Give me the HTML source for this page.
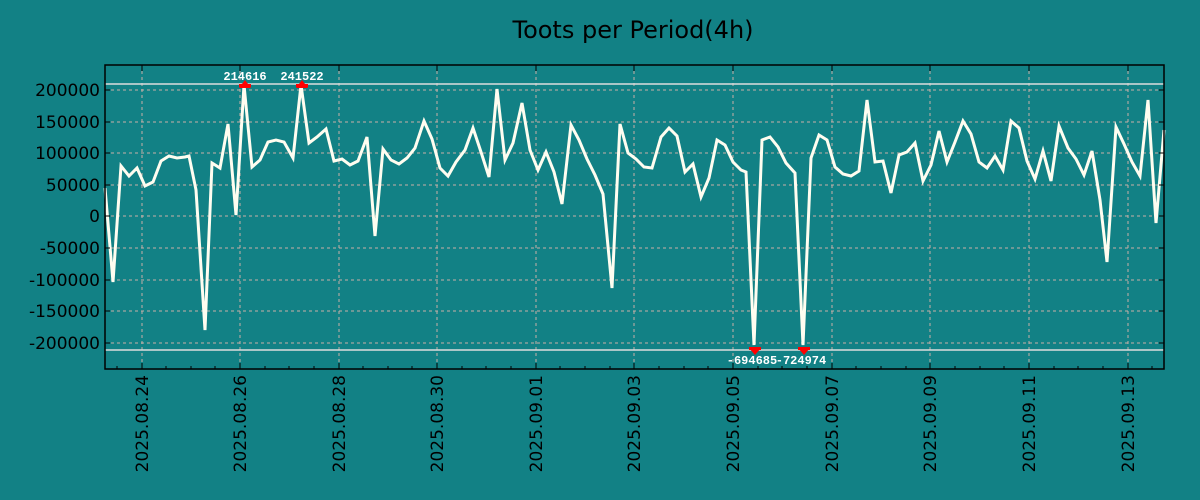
<!DOCTYPE html>
<html><head><meta charset="utf-8"><style>
html,body{margin:0;padding:0;background:#128185;}
svg{display:block;font-family:"DejaVu Sans","Liberation Sans",sans-serif;}
</style></head><body>
<svg width="1200" height="500" viewBox="0 0 1200 500" xmlns="http://www.w3.org/2000/svg">
<rect width="1200" height="500" fill="#128185"/>
<text x="633" y="38" font-size="24" text-anchor="middle" fill="#000">Toots per Period(4h)</text>
<g stroke="#c8b0a8" stroke-width="1" stroke-dasharray="3,3">
<line x1="105" x2="1164" y1="90" y2="90"/><line x1="105" x2="1164" y1="122" y2="122"/>
<line x1="105" x2="1164" y1="153" y2="153"/><line x1="105" x2="1164" y1="185" y2="185"/>
<line x1="105" x2="1164" y1="216" y2="216"/><line x1="105" x2="1164" y1="248" y2="248"/>
<line x1="105" x2="1164" y1="280" y2="280"/><line x1="105" x2="1164" y1="311" y2="311"/>
<line x1="105" x2="1164" y1="343" y2="343"/>
<line x1="142" x2="142" y1="65" y2="369"/><line x1="240" x2="240" y1="65" y2="369"/>
<line x1="339" x2="339" y1="65" y2="369"/><line x1="437" x2="437" y1="65" y2="369"/>
<line x1="536" x2="536" y1="65" y2="369"/><line x1="634" x2="634" y1="65" y2="369"/>
<line x1="733" x2="733" y1="65" y2="369"/><line x1="832" x2="832" y1="65" y2="369"/>
<line x1="930" x2="930" y1="65" y2="369"/><line x1="1029" x2="1029" y1="65" y2="369"/>
<line x1="1128" x2="1128" y1="65" y2="369"/>
</g>
<line x1="105" x2="1164" y1="84" y2="84" stroke="#ddd" stroke-width="1.5"/>
<line x1="105" x2="1164" y1="350" y2="350" stroke="#ddd" stroke-width="1.5"/>
<polyline fill="none" stroke="#fffdf0" stroke-width="3" stroke-linejoin="miter" points="105,188 113,282 121,166 129,176 137,168 145,186 153,182 161,161 169,156 177,158 185,157 189,156 196,190 205,330 212,163 220,168 228,124 236,215 244,85 252,167 260,160 268,142 276,140 284,142 293,158 301,85 309,143 317,137 326,129 334,161 342,159 350,165 358,161 367,137 375,236 383,149 391,160 399,164 407,158 415,148 424,121 432,139 440,168 448,176 456,162 465,150 473,128 481,152 489,177 497,89 505,160 513,143 522,103 530,150 538,170 546,152 554,172 562,204 571,125 579,140 587,159 595,175 603,194 612,288 620,124 628,153 636,159 644,167 652,168 661,137 669,128 677,136 685,172 693,164 701,197 709,178 717,140 725,145 733,162 741,170 746,172 754,345 762,140 770,137 778,147 786,163 795,173 803,345 811,158 819,135 827,140 835,167 843,174 851,176 859,171 867,100 875,162 883,161 891,193 899,155 907,152 915,143 923,181 931,165 939,131 947,162 955,142 963,121 971,134 979,162 987,168 995,156 1003,170 1011,121 1019,128 1027,161 1035,179 1043,151 1051,181 1059,126 1068,148 1076,159 1084,175 1092,151 1100,200 1107,262 1116,127 1124,144 1132,162 1140,176 1148,100 1156,223 1164,130"/>
<g fill="#f00">
<polygon points="239,88 245,80 251,88"/><rect x="239" y="84" width="12" height="3"/>
<polygon points="296,88 302,80 308,88"/><rect x="296" y="84" width="12" height="3"/>
<polygon points="749,348 755,355 761,348"/><rect x="749" y="347" width="12" height="3"/>
<polygon points="798,348 804,355 810,348"/><rect x="798" y="347" width="12" height="3"/>
</g>
<g font-family="'Liberation Mono','DejaVu Sans Mono',monospace" font-size="12" font-weight="bold" fill="#fff" text-anchor="middle">
<text x="245" y="80">214616</text><text x="302" y="80">241522</text>
<text x="752" y="364">-694685</text><text x="801" y="364">-724974</text>
</g>
<rect x="105" y="65" width="1059" height="304" fill="none" stroke="#000" stroke-width="1.5"/>
<g stroke="#000" stroke-width="1">
<path d="M105,90h5M105,122h5M105,153h5M105,185h5M105,216h5M105,248h5M105,280h5M105,311h5M105,343h5"/>
<path d="M1164,90h-5M1164,122h-5M1164,153h-5M1164,185h-5M1164,216h-5M1164,248h-5M1164,280h-5M1164,311h-5M1164,343h-5"/>
<path d="M142,369v-6M240,369v-6M339,369v-6M437,369v-6M536,369v-6M634,369v-6M733,369v-6M832,369v-6M930,369v-6M1029,369v-6M1128,369v-6"/>
<path d="M117,369v-3M166,369v-3M191,369v-3M215,369v-3M265,369v-3M289,369v-3M314,369v-3M363,369v-3M388,369v-3M412,369v-3M462,369v-3M486,369v-3M511,369v-3M560,369v-3M585,369v-3M610,369v-3M659,369v-3M684,369v-3M708,369v-3M758,369v-3M782,369v-3M807,369v-3M856,369v-3M881,369v-3M906,369v-3M955,369v-3M980,369v-3M1004,369v-3M1054,369v-3M1078,369v-3M1103,369v-3M1152,369v-3"/>
<path d="M142,65v6M240,65v6M339,65v6M437,65v6M536,65v6M634,65v6M733,65v6M832,65v6M930,65v6M1029,65v6M1128,65v6"/>
</g>
<g font-size="17" fill="#000" text-anchor="end">
<text x="100" y="96">200000</text><text x="100" y="128">150000</text>
<text x="100" y="159">100000</text><text x="100" y="191">50000</text>
<text x="100" y="222">0</text><text x="100" y="254">-50000</text>
<text x="100" y="286">-100000</text><text x="100" y="317">-150000</text>
<text x="100" y="349">-200000</text>
</g>
<g font-size="17" fill="#000" text-anchor="end">
<text transform="translate(148,375) rotate(-90)">2025.08.24</text>
<text transform="translate(246,375) rotate(-90)">2025.08.26</text>
<text transform="translate(345,375) rotate(-90)">2025.08.28</text>
<text transform="translate(443,375) rotate(-90)">2025.08.30</text>
<text transform="translate(542,375) rotate(-90)">2025.09.01</text>
<text transform="translate(640,375) rotate(-90)">2025.09.03</text>
<text transform="translate(739,375) rotate(-90)">2025.09.05</text>
<text transform="translate(838,375) rotate(-90)">2025.09.07</text>
<text transform="translate(936,375) rotate(-90)">2025.09.09</text>
<text transform="translate(1035,375) rotate(-90)">2025.09.11</text>
<text transform="translate(1134,375) rotate(-90)">2025.09.13</text>
</g>
</svg>
</body></html>
